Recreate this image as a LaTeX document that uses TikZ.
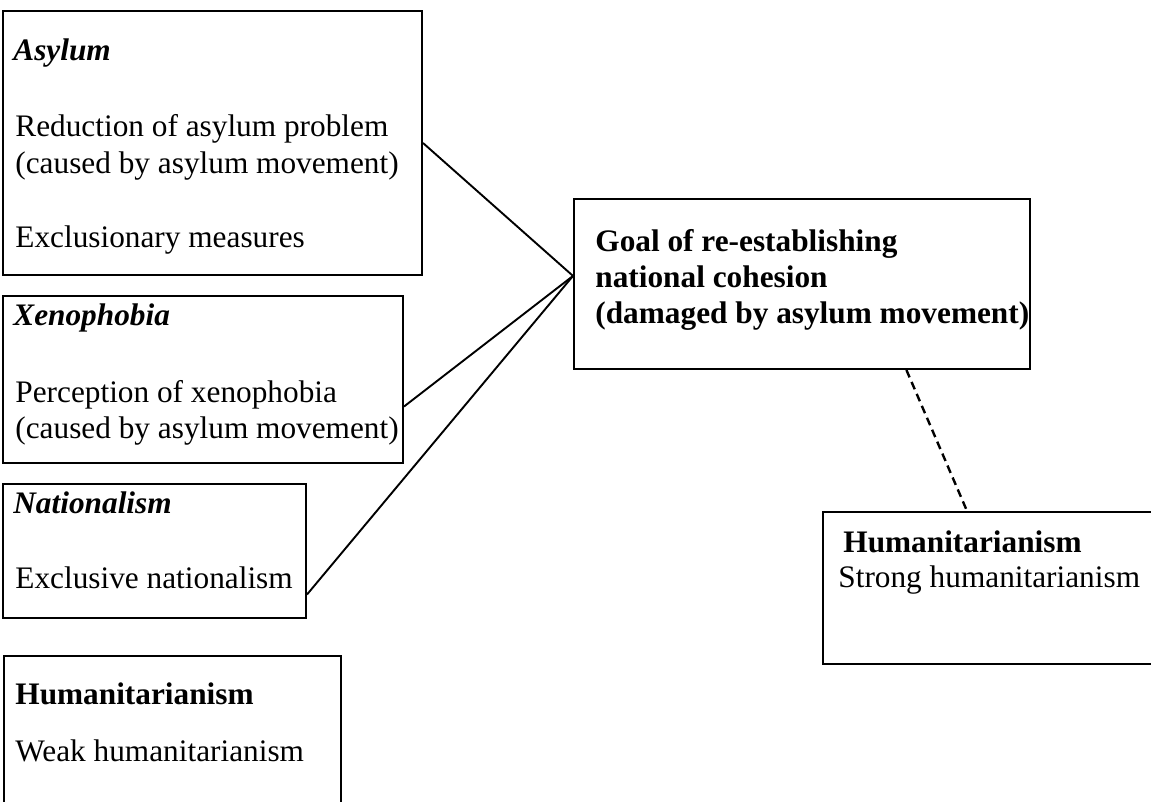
\documentclass[tikz,border=0pt]{standalone}
\usepackage{fontspec}
\setmainfont{Liberation Serif}
\usetikzlibrary{calc}
\tikzset{
  box/.style={draw=black, line width=1pt, rectangle, inner sep=0pt, anchor=north west},
  txt/.style={inner sep=0pt, anchor=base west, font=\fontsize{15.65}{18}\selectfont},
  link/.style={draw=black, line width=0.95pt},
  softlink/.style={draw=black, line width=1.2pt, dash pattern=on 4pt off 2.5pt}
}
\begin{document}
\begin{tikzpicture}[x=0.5pt, y=-0.5pt]
\useasboundingbox (0,0) rectangle (1151,802);
\clip (0,0) rectangle (1151,802);
\fill[white] (0,0) rectangle (1151,802);

% factor boxes on the left
\node[box, minimum width=209.5pt, minimum height=132pt] (asy) at (2,10) {};
\node[box, minimum width=200pt, minimum height=83.5pt] (xeno) at (2,295) {};
\node[box, minimum width=151.5pt, minimum height=67pt] (nat) at (2,483) {};
\node[box, minimum width=168.5pt, minimum height=90pt] (weak) at (3,655) {};

% goal and strong humanitarianism
\node[box, minimum width=228pt, minimum height=85pt] (goal) at (573,198) {};
\node[box, minimum width=180pt, minimum height=76pt] (strong) at (822,511) {};

% texts
\node[txt] (asyH) at (13,61) {\textbf{\textit{Asylum}}};
\node[txt] (asyA) at (15,137) {Reduction of asylum problem};
\node[txt] (asyB) at (15,174) {(caused by asylum movement)};
\node[txt] (asyC) at (15,248) {Exclusionary measures};

\node[txt] (xenoH) at (13,325) {\textbf{\textit{Xenophobia}}};
\node[txt] (xenoA) at (15,402) {Perception of xenophobia};
\node[txt] (xenoB) at (15,438) {(caused by asylum movement)};

\node[txt] (natH) at (13,513) {\textbf{\textit{Nationalism}}};
\node[txt] (natA) at (15,588) {Exclusive nationalism};

\node[txt] (weakH) at (15,704) {\textbf{Humanitarianism}};
\node[txt] (weakA) at (15,761) {Weak humanitarianism};

\node[txt] (goalA) at (595,252) {\textbf{Goal of re-establishing}};
\node[txt] (goalB) at (595,288) {\textbf{national cohesion}};
\node[txt] (goalC) at (595,323) {\textbf{(damaged by asylum movement)}};

\node[txt] (strongH) at (843,552) {\textbf{Humanitarianism}};
\node[txt] (strongA) at (838,587) {Strong humanitarianism};

% connectors
\coordinate (hub) at ($(goal.north west)!0.453!(goal.south west)$);
\draw[link] (asy.east) -- (hub);
\draw[link] ($(xeno.north east)!0.66!(xeno.south east)$) -- (hub);
\draw[link] ($(nat.north east)!0.82!(nat.south east)$) -- (hub);
\draw[softlink] ($(goal.south west)!0.728!(goal.south east)$) -- ($(strong.north west)+(145,0)$);
\end{tikzpicture}
\end{document}
